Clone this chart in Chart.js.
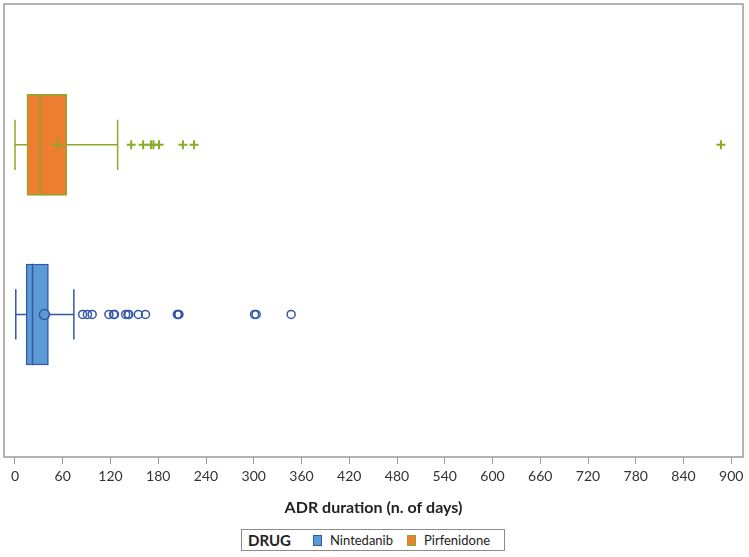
<!DOCTYPE html>
<html>
<head>
<meta charset="utf-8">
<script src="https://cdn.jsdelivr.net/npm/chart.js@4.4.1/dist/chart.umd.min.js"></script>
<style>
  body { margin: 0; background: #fff; font-family: Lato, sans-serif; }
  #wrap { position: relative; width: 749px; height: 529px; }
  #legend {
    position: absolute; left: 241px; top: 529px; width: 264px; height: 22px;
    border: 1px solid #8c8c8c; box-sizing: border-box; background: #fff;
    display: flex; align-items: center; font-size: 13px; color: #222;
  }
  #legend b { font-size: 15px; margin-left: 6px; margin-right: 22px; }
  #legend .sw { display: inline-block; width: 11px; height: 11px; margin-right: 8px; box-sizing: border-box; }
</style>
</head>
<body>
<div id="wrap"><canvas id="chart"></canvas></div>
<div id="legend"></div>
<script>
// categories, top to bottom
const drugs = ["Pirfenidone", "Nintedanib"];
const legendOrder = ["Nintedanib", "Pirfenidone"];

// box plot statistics (days)
const whiskerLow = [0, 1];
const q1 = [15, 14];
const median = [32, 22];
const q3 = [65, 42];
const whiskerHigh = [129, 74];
const mean = [54, 37];

// outliers
const pirfenidoneOutliers = [146, 161, 171, 174, 181, 211, 225, 887];
const nintedanibOutliers = [85, 91, 97, 118, 124, 125, 139, 142, 143, 155, 164, 204, 205, 206, 301, 303, 347];
const outliers = [pirfenidoneOutliers, nintedanibOutliers];

const xTicks = [0, 60, 120, 180, 240, 300, 360, 420, 480, 540, 600, 660, 720, 780, 840, 900];

const fills = ["#ED7D31", "#5B9BD5"];
const lines = ["#8BAA28", "#3556A8"];
const capHalf = 0.148;   // whisker cap half height, in category units
const boxHalf = 0.299;   // box half height, in category units

const datasets = [];
drugs.forEach((d, i) => {
  const y = i + 1;
  // box (drawn underneath everything else)
  datasets.push({
    type: "bar",
    label: d,
    order: 5,
    indexAxis: "y",
    grouped: false,
    barThickness: 101,
    data: [{ x: [q1[i], q3[i]], y: y }],
    backgroundColor: fills[i],
    borderColor: lines[i],
    borderWidth: 1.5,
    borderSkipped: false
  });
  // whiskers, caps and median, broken with NaN points
  datasets.push({
    type: "line",
    label: d + " whiskers",
    order: 2,
    data: [
      { x: whiskerLow[i], y: y - capHalf }, { x: whiskerLow[i], y: y + capHalf }, { x: NaN, y: NaN },
      { x: whiskerLow[i], y: y }, { x: q1[i], y: y }, { x: NaN, y: NaN },
      { x: q3[i], y: y }, { x: whiskerHigh[i], y: y }, { x: NaN, y: NaN },
      { x: whiskerHigh[i], y: y - capHalf }, { x: whiskerHigh[i], y: y + capHalf }, { x: NaN, y: NaN },
      { x: median[i], y: y - boxHalf }, { x: median[i], y: y + boxHalf }
    ],
    borderColor: lines[i],
    borderWidth: 1.5,
    pointRadius: 0,
    spanGaps: false,
    tension: 0
  });
  // mean marker
  datasets.push({
    type: "scatter",
    label: d + " mean",
    order: 1,
    data: [{ x: mean[i], y: y }],
    pointStyle: i === 0 ? "cross" : "circle",
    pointRadius: i === 0 ? 6 : 5,
    borderColor: lines[i],
    backgroundColor: i === 0 ? lines[i] : fills[i],
    pointBorderWidth: 1.5
  });
  // outliers
  datasets.push({
    type: "scatter",
    label: d + " outliers",
    order: 1,
    data: outliers[i].map(v => ({ x: v, y: y })),
    pointStyle: i === 0 ? "cross" : "circle",
    pointRadius: i === 0 ? 4.5 : 4,
    borderColor: lines[i],
    backgroundColor: "rgba(255,255,255,0)",
    pointBorderWidth: i === 0 ? 2 : 1.5
  });
});

// gray frame round the plot area
const frame = {
  id: "frame",
  beforeDatasetsDraw(chart) {
    const a = chart.chartArea;
    const ctx = chart.ctx;
    ctx.save();
    ctx.strokeStyle = "#9a9a9a";
    ctx.lineWidth = 1.5;
    ctx.strokeRect(a.left, a.top, a.right - a.left, a.bottom - a.top);
    ctx.restore();
  }
};

new Chart(document.getElementById("chart"), {
  type: "scatter",
  data: { datasets: datasets },
  plugins: [frame],
  options: {
    responsive: true,
    maintainAspectRatio: false,
    animation: false,
    layout: { autoPadding: false, padding: { top: 4, left: 4, right: 6, bottom: 8 } },
    plugins: { legend: { display: false }, tooltip: { enabled: false } },
    scales: {
      x: {
        type: "linear",
        offset: false,
        min: -13.8,
        max: 914.7,
        afterBuildTicks: scale => { scale.ticks = xTicks.map(v => ({ value: v })); },
        grid: { offset: false, drawOnChartArea: false, drawTicks: true, tickLength: 7, color: "#9a9a9a" },
        border: { display: false },
        ticks: { color: "#333", font: { family: "Lato", size: 14 }, padding: 4, maxRotation: 0, autoSkip: false },
        title: {
          display: true,
          text: "ADR duration (n. of days)",
          color: "#222",
          font: { family: "Lato", size: 16, weight: "bold" },
          padding: { top: 9, bottom: 4 }
        }
      },
      y: {
        type: "linear",
        display: false,
        offset: false,
        grid: { offset: false },
        reverse: true,
        min: 0.17,
        max: 2.84
      }
    }
  }
});

// legend below the chart
const legend = document.getElementById("legend");
legend.innerHTML = "<b>DRUG</b>" + legendOrder.map(name => {
  const i = drugs.indexOf(name);
  return `<span class="sw" style="background:${fills[i]};border:1px solid ${lines[i]}"></span><span style="margin-right:14px">${name}</span>`;
}).join("");
</script>
</body>
</html>
